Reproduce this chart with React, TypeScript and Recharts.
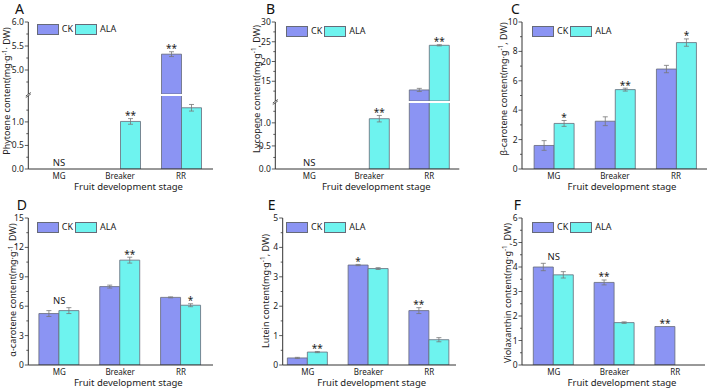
import React from "react"
import { BarChart, Bar, XAxis, YAxis, ErrorBar, LabelList, Legend, ReferenceDot } from "recharts"

const stages = ["MG", "Breaker", "RR"]

// A - phytoene
const phyCK = [0, 0, 5.33]
const phyCKErr = [0, 0, 0.05]
const phyALA = [0, 1.01, 1.3]
const phyALAErr = [0, 0.06, 0.07]
const phyCKSig = ["", "", "**"]
const phyALASig = ["", "**", ""]
const phyGroupSig = ["NS", "", ""]

// B - lycopene
const lycCK = [0, 0, 12.8]
const lycCKErr = [0, 0, 0.4]
const lycALA = [0, 1.09, 24.1]
const lycALAErr = [0, 0.07, 0.15]
const lycCKSig = ["", "", ""]
const lycALASig = ["", "**", "**"]
const lycGroupSig = ["NS", "", ""]

// C - beta-carotene
const betaCK = [1.6, 3.25, 6.8]
const betaCKErr = [0.33, 0.3, 0.25]
const betaALA = [3.1, 5.4, 8.6]
const betaALAErr = [0.2, 0.1, 0.25]
const betaCKSig = ["", "", ""]
const betaALASig = ["*", "**", "*"]
const betaGroupSig = ["", "", ""]

// D - alpha-carotene
const alphaCK = [5.25, 8.0, 6.9]
const alphaCKErr = [0.3, 0.15, 0.05]
const alphaALA = [5.55, 10.7, 6.1]
const alphaALAErr = [0.3, 0.3, 0.15]
const alphaCKSig = ["", "", ""]
const alphaALASig = ["", "**", "*"]
const alphaGroupSig = ["NS", "", ""]

// E - lutein
const lutCK = [0.24, 3.4, 1.85]
const lutCKErr = [0.02, 0.02, 0.1]
const lutALA = [0.44, 3.28, 0.86]
const lutALAErr = [0.02, 0.03, 0.07]
const lutCKSig = ["", "*", "**"]
const lutALASig = ["**", "", ""]
const lutGroupSig = ["", "", ""]

// F - violaxanthin
const violaCK = [4.0, 3.37, 1.57]
const violaCKErr = [0.15, 0.1, 0]
const violaALA = [3.68, 1.73, 0]
const violaALAErr = [0.13, 0.03, 0]
const violaCKSig = ["", "**", "**"]
const violaALASig = ["", "", ""]
const violaGroupSig = ["NS", "", ""]

// y tick labels
const phyTicksHi = [5.0, 5.5, 6.0]
const phyTicksLo = [0, 0.5, 1.0]
const lycTicksHi = [15, 20, 25, 30]
const lycTicksLo = [0, 0.5, 1.0]
const betaTicks = [0, 2, 4, 6, 8, 10]
const alphaTicks = [0, 3, 6, 9, 12, 15]
const lutTicks = [0, 1, 2, 3, 4, 5]
const violaTicks = [0, 1, 2, 3, 4, 5, 6]

const CK_FILL = "#8b94f3"
const ALA_FILL = "#6ef3ef"
const fills: Record<string, string> = { CK: CK_FILL, ALA: ALA_FILL }
const legendOrder = ["CK", "ALA"]
const AXIS = "#333"
const BAR_STROKE = "#666a78"
const FONT = "'Noto Sans', 'DejaVu Sans', sans-serif"

type Seg = { top: number; bottom: number; lo: number; hi: number; ticks: number[]; dec: number }
type Cfg = {
  letter: string
  ox: number
  oy: number
  axisX: number
  axisEnd: number
  padL: number
  padR: number
  letterX: number
  titleX: number
  titleY: number
  xTitleX: number
  legendX: number
  legendY: number
  title: [string, string]
  ck: number[]
  ckErr: number[]
  ala: number[]
  alaErr: number[]
  ckSig: string[]
  alaSig: string[]
  groupSig: string[]
  segs: Seg[]
}

const withMinors = (majors: number[], lo: number, hi: number) => {
  const step = majors[1] - majors[0]
  const out = [...majors]
  for (let t = majors[0] - step / 2; t <= hi + 1e-9; t += step) {
    if (t >= lo - 1e-9) out.push(t)
  }
  return out.sort((a, b) => a - b)
}

function YTick(props: any) {
  const { x, y, payload, majors, dec } = props
  const major = majors.includes(payload.value)
  return (
    <g>
      <line x1={x - (major ? 3.5 : 2)} x2={x} y1={y} y2={y} stroke={AXIS} strokeWidth={0.8} />
      {major && (
        <text x={x - 4.5} y={y} dy={3} textAnchor="end" fontSize={8.5} fill="#222">
          {Number(payload.value).toFixed(dec)}
        </text>
      )}
    </g>
  )
}

// significance stars above a single bar (value looked up in its own series)
const starLabel = (marks: string[], own: number[], err: number[], ppu: number, lo: number, hi: number) => (p: any) => {
  const v = Number(p.value)
  const i = own.indexOf(v)
  if (i < 0 || !marks[i]) return null
  if (v > hi || v < lo) return null
  const vb = p.viewBox || {}
  const x = Number(vb.x ?? p.x)
  const y = Number(vb.y ?? p.y)
  const w = Number(vb.width ?? p.width)
  return (
    <text x={x + w / 2} y={y - err[i] * ppu + 0.5} textAnchor="middle" fontSize={10} fill="#222">
      {marks[i]}
    </text>
  )
}

const nsLabel = (text: string) => (p: any) => {
  const vb = p.viewBox || {}
  return (
    <text x={vb.x + (vb.width || 0) / 2} y={vb.y - 2.5} textAnchor="middle" fontSize={9.5} fill="#222">
      {text}
    </text>
  )
}

const renderLegend = (props: any) => {
  const items = [...(props.payload || [])].sort(
    (a: any, b: any) => legendOrder.indexOf(a.value) - legendOrder.indexOf(b.value)
  )
  return (
    <div style={{ display: "flex", alignItems: "center", height: 12, fontSize: 9, color: "#222" }}>
      {items.map((e: any) => (
        <div key={e.value} style={{ display: "flex", alignItems: "center", marginRight: 2 }}>
          <div
            style={{
              width: 22,
              height: 11,
              boxSizing: "border-box",
              background: fills[e.value],
              border: `1px solid ${BAR_STROKE}`,
              marginRight: 3,
            }}
          />
          <span style={{ lineHeight: "12px" }}>{e.value}</span>
        </div>
      ))}
    </div>
  )
}

function Panel({ cfg }: { cfg: Cfg }) {
  const n = cfg.segs.length
  return (
    <div style={{ position: "absolute", left: cfg.ox, top: cfg.oy, width: 236, height: 196 }}>
      {cfg.segs.map((seg, si) => {
        const last = si === n - 1
        const ppu = (seg.bottom - seg.top) / (seg.hi - seg.lo)
        const h = last ? 196 : seg.bottom
        // values under this segment's floor are not drawn in it
        const data = stages.map((s, i) => ({
          stage: s,
          ck: cfg.ck[i] >= seg.lo ? cfg.ck[i] : null,
          ala: cfg.ala[i] >= seg.lo ? cfg.ala[i] : null,
          ckErr: cfg.ckErr[i],
          alaErr: cfg.alaErr[i],
        }))
        return (
          <div key={si} style={{ position: "absolute", left: 0, top: 0 }}>
            <BarChart
              width={236}
              height={h}
              data={data}
              barSize={20}
              barGap={0}
              margin={{ top: seg.top, right: 236 - cfg.axisEnd, bottom: 0, left: 0 }}
            >
              <XAxis
                dataKey="stage"
                hide={!last}
                height={196 - seg.bottom}
                padding={{ left: cfg.padL, right: cfg.padR }}
                tickLine={false}
                tickSize={0}
                tickMargin={4}
                interval={0}
                axisLine={{ stroke: AXIS, strokeWidth: 1 }}
                tick={{ fontSize: 8, fill: "#222" }}
              />
              <YAxis
                width={cfg.axisX}
                domain={[seg.lo, seg.hi]}
                allowDataOverflow
                ticks={withMinors(seg.ticks, seg.lo, seg.hi)}
                interval={0}
                tickLine={false}
                tickSize={0}
                tickMargin={0}
                axisLine={{ stroke: AXIS, strokeWidth: 1 }}
                tick={(tp: any) => <YTick {...tp} majors={seg.ticks} dec={seg.dec} />}
              />
              {si === 0 && (
                <Legend
                  verticalAlign="middle"
                  layout="horizontal"
                  content={renderLegend}
                  wrapperStyle={{ top: cfg.legendY, left: cfg.legendX, width: 130, height: 12 }}
                />
              )}
              <Bar dataKey="ck" name="CK" fill={CK_FILL} stroke={BAR_STROKE} strokeWidth={0.8} isAnimationActive={false}>
                <ErrorBar dataKey="ckErr" direction="y" width={2.5} stroke="#777" strokeWidth={0.8} />
                <LabelList dataKey="ck" content={starLabel(cfg.ckSig, cfg.ck, cfg.ckErr, ppu, seg.lo, seg.hi)} />
              </Bar>
              <Bar dataKey="ala" name="ALA" fill={ALA_FILL} stroke={BAR_STROKE} strokeWidth={0.8} isAnimationActive={false}>
                <ErrorBar dataKey="alaErr" direction="y" width={2.5} stroke="#777" strokeWidth={0.8} />
                <LabelList dataKey="ala" content={starLabel(cfg.alaSig, cfg.ala, cfg.alaErr, ppu, seg.lo, seg.hi)} />
              </Bar>
              {stages.map((s, i) =>
                cfg.groupSig[i] ? (
                  <ReferenceDot
                    key={s}
                    x={s}
                    y={Math.max(cfg.ck[i] + cfg.ckErr[i], cfg.ala[i] + cfg.alaErr[i])}
                    r={1}
                    fill="none"
                    stroke="none"
                    ifOverflow="discard"
                    label={nsLabel(cfg.groupSig[i])}
                  />
                ) : null
              )}
            </BarChart>
          </div>
        )
      })}
      <svg
        width={236}
        height={196}
        style={{ position: "absolute", left: 0, top: 0, pointerEvents: "none", overflow: "visible" }}
      >
        <text x={cfg.letterX} y={13.5} fontSize={14} fill="#111">
          {cfg.letter}
        </text>
        <text
          x={cfg.titleX + 3}
          y={cfg.titleY}
          transform={`rotate(-90, ${cfg.titleX + 3}, ${cfg.titleY})`}
          textAnchor="middle"
          fontSize={9}
          fill="#222"
        >
          {cfg.title[0]}
          <tspan dy={-3.5} fontSize={6.5}>
            -1
          </tspan>
          <tspan dy={3.5}>{cfg.title[1]}</tspan>
        </text>
        <text x={cfg.xTitleX} y={190} textAnchor="middle" fontSize={9.5} fill="#222">
          Fruit development stage
        </text>
        {n === 2 && (
          <g stroke={AXIS} strokeWidth={0.8}>
            <line
              x1={cfg.axisX - 2.5}
              y1={(cfg.segs[0].bottom + cfg.segs[1].top) / 2 + 1}
              x2={cfg.axisX + 2.5}
              y2={(cfg.segs[0].bottom + cfg.segs[1].top) / 2 - 2.5}
            />
            <line
              x1={cfg.axisX - 2.5}
              y1={(cfg.segs[0].bottom + cfg.segs[1].top) / 2 + 2.5}
              x2={cfg.axisX + 2.5}
              y2={(cfg.segs[0].bottom + cfg.segs[1].top) / 2 - 1}
            />
          </g>
        )}
      </svg>
    </div>
  )
}

const panels: Cfg[] = [
  {
    letter: "A", ox: 0, oy: 0, axisX: 28.3, axisEnd: 213, padL: 0.2, padR: 1.5,
    letterX: 15, titleX: 7, titleY: 91, xTitleX: 128.5, legendX: 36.7, legendY: 23,
    title: ["Phytoene content(mg·g", "· DW)"],
    ck: phyCK, ckErr: phyCKErr, ala: phyALA, alaErr: phyALAErr,
    ckSig: phyCKSig, alaSig: phyALASig, groupSig: phyGroupSig,
    segs: [
      { top: 22, bottom: 94, lo: 4.5, hi: 6.0, ticks: phyTicksHi, dec: 1 },
      { top: 96, bottom: 169, lo: 0, hi: 1.55, ticks: phyTicksLo, dec: 1 },
    ],
  },
  {
    letter: "B", ox: 236, oy: 0, axisX: 39.3, axisEnd: 223.3, padL: 4, padR: 0,
    letterX: 30, titleX: 20.7, titleY: 89, xTitleX: 140.3, legendX: 50, legendY: 25,
    title: ["Lycopene content(mg·g", ", DW)"],
    ck: lycCK, ckErr: lycCKErr, ala: lycALA, alaErr: lycALAErr,
    ckSig: lycCKSig, alaSig: lycALASig, groupSig: lycGroupSig,
    segs: [
      { top: 22, bottom: 101, lo: 10, hi: 30, ticks: lycTicksHi, dec: 0 },
      { top: 103, bottom: 169, lo: 0, hi: 1.43, ticks: lycTicksLo, dec: 1 },
    ],
  },
  {
    letter: "C", ox: 472, oy: 0, axisX: 50, axisEnd: 235, padL: 1.1, padR: 0.4,
    letterX: 39, titleX: 31.7, titleY: 89, xTitleX: 150, legendX: 60, legendY: 25,
    title: ["β-carotene content(mg·g", ", DW)"],
    ck: betaCK, ckErr: betaCKErr, ala: betaALA, alaErr: betaALAErr,
    ckSig: betaCKSig, alaSig: betaALASig, groupSig: betaGroupSig,
    segs: [{ top: 22, bottom: 169, lo: 0, hi: 10, ticks: betaTicks, dec: 0 }],
  },
  {
    letter: "D", ox: 0, oy: 196, axisX: 28.3, axisEnd: 213, padL: 0.6, padR: 1.6,
    letterX: 16.7, titleX: 13.3, titleY: 94, xTitleX: 128.3, legendX: 36.7, legendY: 25,
    title: ["α-carotene content(mg·g", ", DW)"],
    ck: alphaCK, ckErr: alphaCKErr, ala: alphaALA, alaErr: alphaALAErr,
    ckSig: alphaCKSig, alaSig: alphaALASig, groupSig: alphaGroupSig,
    segs: [{ top: 22, bottom: 169, lo: 0, hi: 15, ticks: alphaTicks, dec: 0 }],
  },
  {
    letter: "E", ox: 236, oy: 196, axisX: 46.7, axisEnd: 220, padL: -5.35, padR: -3.65,
    letterX: 31.7, titleX: 29.5, titleY: 95, xTitleX: 135.7, legendX: 50, legendY: 25,
    title: ["Lutein content(mg·g", ", DW)"],
    ck: lutCK, ckErr: lutCKErr, ala: lutALA, alaErr: lutALAErr,
    ckSig: lutCKSig, alaSig: lutALASig, groupSig: lutGroupSig,
    segs: [{ top: 22, bottom: 169, lo: 0, hi: 5, ticks: lutTicks, dec: 0 }],
  },
  {
    letter: "F", ox: 472, oy: 196, axisX: 50, axisEnd: 233, padL: 1.3, padR: -0.7,
    letterX: 41.7, titleX: 35.5, titleY: 97, xTitleX: 150, legendX: 60, legendY: 25,
    title: ["Violaxanthin content(mg·g", ", DW)"],
    ck: violaCK, ckErr: violaCKErr, ala: violaALA, alaErr: violaALAErr,
    ckSig: violaCKSig, alaSig: violaALASig, groupSig: violaGroupSig,
    segs: [{ top: 22, bottom: 169, lo: 0, hi: 6, ticks: violaTicks, dec: 0 }],
  },
]

export default function App() {
  return (
    <div
      style={{
        position: "absolute",
        left: 0,
        top: 0,
        width: 708,
        height: 392,
        background: "#fff",
        fontFamily: FONT,
        overflow: "hidden",
      }}
    >
      {panels.map((p) => (
        <Panel key={p.letter} cfg={p} />
      ))}
    </div>
  )
}
